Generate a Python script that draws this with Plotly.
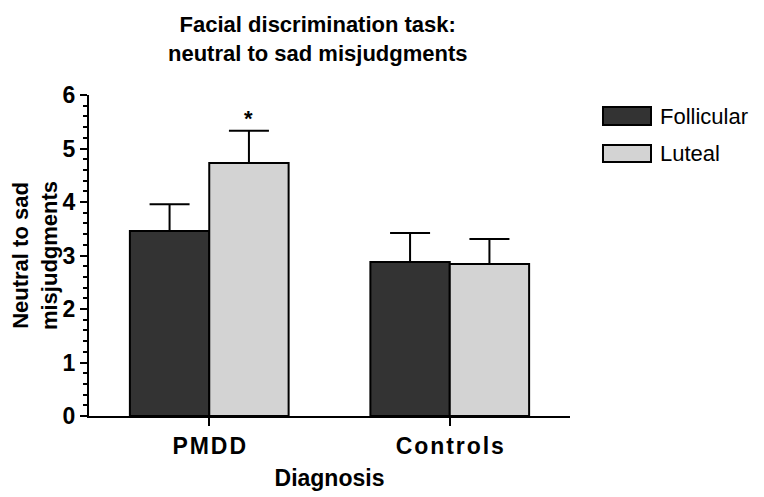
import plotly.graph_objects as go

categories = ["PMDD", "Controls"]
tick_text = ["PMDD", "Controls"]
series_names = ["Follicular", "Luteal"]
follicular = [3.46, 2.88]
follicular_err = [0.50, 0.54]
luteal = [4.73, 2.84]
luteal_err = [0.60, 0.47]
y_ticks = [0, 1, 2, 3, 4, 5, 6]
colors = ["#333333", "#d3d3d3"]

FONT = "Liberation Sans, Arial, sans-serif"
HAIR = "\u200a"

fig = go.Figure()
for name, vals, errs, col in zip(series_names, [follicular, luteal],
                                 [follicular_err, luteal_err], colors):
    fig.add_trace(go.Bar(
        x=categories, y=vals, name=name,
        marker=dict(color=col, line=dict(color="black", width=2)),
        error_y=dict(type="data", array=errs, arrayminus=[0] * len(errs),
                     symmetric=False, color="black", thickness=2, width=20),
        showlegend=False,
    ))

# significance marker above PMDD luteal bar
fig.add_annotation(x=0.165, y=luteal[0] + luteal_err[0], xref="x", yref="y",
                   text="<b>*</b>", showarrow=False, yanchor="bottom", yshift=-2,
                   font=dict(family=FONT, size=22, color="black"))

# title
fig.add_annotation(xref="paper", yref="paper", x=0.476, y=1.265,
                   text="<b>Facial discrimination task:<br>neutral to sad misjudgments</b>",
                   showarrow=False, xanchor="center", yanchor="top", align="center",
                   font=dict(family=FONT, size=22, color="black"))

# custom legend (swatches + labels)
leg_y = [(0.9626, 0.9065), (0.8442, 0.7913)]
for name, col, (y1, y0) in zip(series_names, colors, leg_y):
    fig.add_shape(type="rect", xref="paper", yref="paper",
                  x0=1.0686, x1=1.1684, y0=y0, y1=y1,
                  fillcolor=col, line=dict(color="black", width=2))
    fig.add_annotation(xref="paper", yref="paper", x=1.183, y=(y0 + y1) / 2,
                       text=name, showarrow=False, xanchor="left", yanchor="middle",
                       font=dict(family=FONT, size=22, color="black"))

# the page body adds an 8px offset, so the figure is 8px smaller on each side
fig.update_layout(
    width=756, height=489,
    margin=dict(l=81, r=194, t=87, b=81, autoexpand=False),
    paper_bgcolor="white", plot_bgcolor="white",
    barmode="group", bargap=0.34, bargroupgap=0,
    font=dict(family=FONT, color="black"),
)

fig.update_xaxes(
    type="category", tickvals=categories,
    ticktext=["<b>%s</b>" % HAIR.join(t) for t in tick_text],
    range=[-0.5, 1.5], showline=True, linecolor="black", linewidth=2,
    ticks="outside", ticklen=8, tickwidth=2, tickcolor="black",
    tickfont=dict(family=FONT, size=23, color="black"),
    title=dict(text="<b>Diagnosis</b>", standoff=12,
               font=dict(family=FONT, size=23, color="black")),
    showgrid=False, zeroline=False, automargin=False,
)

fig.update_yaxes(
    range=[0, 6], tickvals=y_ticks, ticktext=["<b>%d</b>" % v for v in y_ticks],
    showline=True, linecolor="black", linewidth=2,
    ticks="outside", ticklen=7, tickwidth=2, tickcolor="black",
    tickfont=dict(family=FONT, size=23, color="black"),
    minor=dict(dtick=0.2, tick0=0, ticks="outside", ticklen=4, tickwidth=1.5,
               tickcolor="black", showgrid=False),
    title=dict(text="<b>Neutral to sad<br>misjudgments</b>", standoff=2,
               font=dict(family=FONT, size=22, color="black")),
    showgrid=False, zeroline=False, automargin=False,
)

fig.write_html("out.html")
